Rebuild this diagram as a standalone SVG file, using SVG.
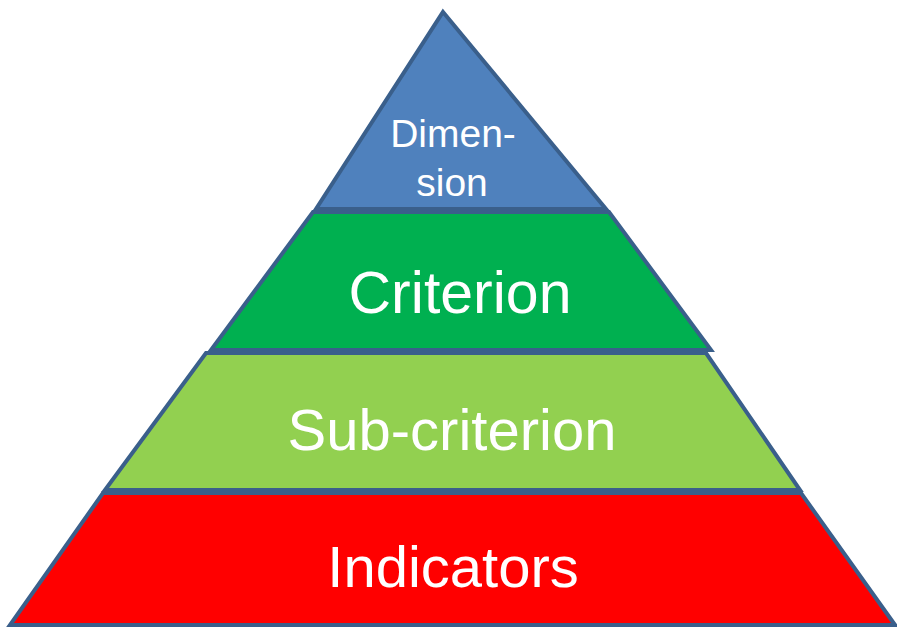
<svg xmlns="http://www.w3.org/2000/svg" width="897" height="628" viewBox="0 0 897 628">
<style>
.lv{stroke:#3a5f8b;stroke-width:4;stroke-linejoin:miter}
.t{fill:#ffffff;font-family:"Liberation Sans",Arial,sans-serif;text-anchor:middle}
</style>
<rect width="897" height="628" fill="#ffffff"/>
<g id="dimension">
<polygon class="lv" fill="#4f81bd" points="443,12 606,209 316,209"/>
<text class="t" x="453" y="147" font-size="39">Dimen-</text>
<text class="t" x="452" y="196" font-size="39">sion</text>
</g>
<g id="criterion">
<polygon class="lv" fill="#00b050" points="313,212 609,212 711,350 211,350"/>
<text class="t" x="460" y="313" font-size="59">Criterion</text>
</g>
<g id="subcriterion">
<polygon class="lv" fill="#92d050" points="206,353 706,353 800,490 105,490"/>
<text class="t" x="452" y="450" font-size="58">Sub-criterion</text>
</g>
<g id="indicators">
<polygon class="lv" fill="#ff0000" points="103,493 801,493 895,625 10,625"/>
<text class="t" x="453" y="587" font-size="58">Indicators</text>
</g>
<g id="connectors"/>
</svg>
